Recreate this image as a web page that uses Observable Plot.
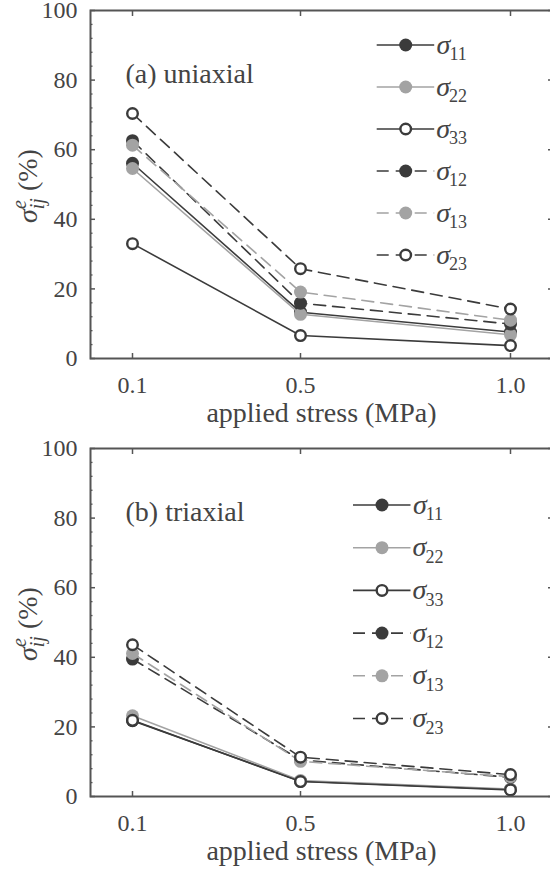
<!DOCTYPE html>
<html><head><meta charset="utf-8">
<script src="https://cdn.jsdelivr.net/npm/d3@7"></script>
<script src="https://cdn.jsdelivr.net/npm/@observablehq/plot@0.6"></script>
<style>
html,body{margin:0;padding:0;background:#fff;overflow:hidden;}
svg{display:block;}
svg text{font-family:'Liberation Serif','Times New Roman','DejaVu Serif',serif !important;}
</style></head><body><div id="chart"></div>
<script>
// ---- data ----
const stress = [0.1, 0.5, 1.0];
const xTicks = [0.1, 0.5, 1.0];
const yTicks = [0, 20, 40, 60, 80, 100];
const yMinorTicks = [4, 8, 12, 16, 24, 28, 32, 36, 44, 48, 52, 56, 64, 68, 72, 76, 84, 88, 92, 96];
const seriesKeys = ["11", "22", "33", "12", "13", "23"];

// (a) uniaxial
const uni11 = [56.1, 13.3, 7.6];
const uni22 = [54.6, 12.7, 6.8];
const uni33 = [33.0, 6.6, 3.7];
const uni12 = [62.6, 15.9, 9.9];
const uni13 = [61.3, 19.1, 11.0];
const uni23 = [70.4, 25.8, 14.2];

// (b) triaxial
const tri11 = [21.8, 4.4, 2.0];
const tri22 = [23.2, 4.6, 2.1];
const tri33 = [21.9, 4.3, 1.9];
const tri12 = [39.5, 10.5, 5.5];
const tri13 = [41.1, 10.1, 5.7];
const tri23 = [43.6, 11.3, 6.3];

const panelTitles = ["(a) uniaxial", "(b) triaxial"];
const xTitle = "applied stress (MPa)";

// ---- styles ----
const dark = "#3b3b3b", light = "#a3a3a3", frameColor = "#555", textColor = "#444";
const font = "'Liberation Serif', 'Times New Roman', 'DejaVu Serif', serif";
const styles = [
  {color: dark, open: false, dash: null},
  {color: light, open: false, dash: null},
  {color: dark, open: true, dash: null},
  {color: dark, open: false, dash: "12,7"},
  {color: light, open: false, dash: "12,7"},
  {color: dark, open: true, dash: "12,7"}
];

function panel(values, title, legend) {
  const marks = [
    Plot.axisY(yMinorTicks, {anchor: "left", tickSize: -2.5, tickFormat: () => "", stroke: frameColor, strokeWidth: 1.3, label: null}),
    Plot.axisY(yTicks, {anchor: "left", tickSize: -5, tickFormat: () => "", stroke: frameColor, strokeWidth: 1.5, label: null}),
    Plot.axisY(yTicks, {anchor: "right", tickSize: -5, tickFormat: () => "", stroke: frameColor, strokeWidth: 1.5, label: null}),
    Plot.axisY(yTicks, {anchor: "left", tickSize: 0, tickPadding: 13, fontSize: 24, fill: textColor, label: null}),
    Plot.axisX(xTicks, {anchor: "bottom", tickSize: -5, tickFormat: () => "", stroke: frameColor, strokeWidth: 1.5, label: null}),
    Plot.axisX(xTicks, {anchor: "top", tickSize: -5, tickFormat: () => "", stroke: frameColor, strokeWidth: 1.5, label: null}),
    Plot.axisX(xTicks, {anchor: "bottom", tickSize: 0, tickPadding: 17, fontSize: 24, fill: textColor, tickFormat: d => d.toFixed(1), label: null}),
    Plot.text([xTitle], {text: d => d, frameAnchor: "bottom", dy: 63, fontSize: 28, fill: textColor}),
    Plot.text([title], {text: d => d, frameAnchor: "top-left", dx: 35, dy: 52.5, textAnchor: "start", fontSize: 28, fill: textColor})
  ];
  seriesKeys.forEach((k, i) => {
    const data = stress.map((x, j) => ({x, y: values[i][j]}));
    const st = styles[i];
    marks.push(Plot.line(data, {x: "x", y: "y", stroke: st.color, strokeWidth: 1.6, strokeDasharray: st.dash}));
    marks.push(Plot.dot(data, st.open
      ? {x: "x", y: "y", r: 5.3, fill: "white", stroke: st.color, strokeWidth: 2.4}
      : {x: "x", y: "y", r: 6.5, fill: st.color, stroke: "none"}));
  });
  marks.push(Plot.frame({stroke: frameColor, strokeWidth: 2}));

  const svg = Plot.plot({
    width: 550, height: 438,
    marginLeft: 90, marginRight: -2, marginTop: 10, marginBottom: 80,
    style: {fontFamily: font, background: "white", overflow: "visible"},
    x: {domain: [0, 1.1]},
    y: {domain: [0, 100]},
    marks
  });

  const s = d3.select(svg);
  // y-axis label
  const t = s.append("text")
    .attr("transform", `translate(37,186) rotate(-90)`)
    .attr("text-anchor", "middle")
    .attr("font-size", 28).attr("fill", textColor);
  t.append("tspan").attr("font-style", "italic").text("σ");
  t.append("tspan").attr("font-style", "italic").attr("font-size", 20).attr("dy", -11).text("e");
  t.append("tspan").attr("font-style", "italic").attr("font-size", 20).attr("dx", -9).attr("dy", 18).text("ij");
  t.append("tspan").attr("dy", -7).text(" (%)");

  // legend
  const g = s.append("g");
  seriesKeys.forEach((k, i) => {
    const st = styles[i];
    const y = legend.y0 + i * legend.dy;
    const mx = legend.x;
    g.append("line").attr("x1", mx - 29).attr("x2", mx + 28.5).attr("y1", y).attr("y2", y)
      .attr("stroke", st.color).attr("stroke-width", 1.6)
      .attr("stroke-dasharray", st.dash);
    if (st.open) g.append("circle").attr("cx", mx).attr("cy", y).attr("r", 5.3)
      .attr("fill", "white").attr("stroke", st.color).attr("stroke-width", 2.4);
    else g.append("circle").attr("cx", mx).attr("cy", y).attr("r", 6.5).attr("fill", st.color);
    const lt = g.append("text").attr("x", mx + 46).attr("y", y + 8.5).attr("fill", textColor);
    lt.append("tspan").attr("font-style", "italic").attr("font-size", 28).text("σ");
    lt.append("tspan").attr("font-size", 18).attr("dx", -1).attr("dy", 6.7).text(k);
  });
  return svg;
}

const root = document.getElementById("chart");
root.appendChild(panel([uni11, uni22, uni33, uni12, uni13, uni23], panelTitles[0], {x: 405.7, y0: 45, dy: 42}));
root.appendChild(panel([tri11, tri22, tri33, tri12, tri13, tri23], panelTitles[1], {x: 382, y0: 67, dy: 42.7}));
</script>
</body></html>
